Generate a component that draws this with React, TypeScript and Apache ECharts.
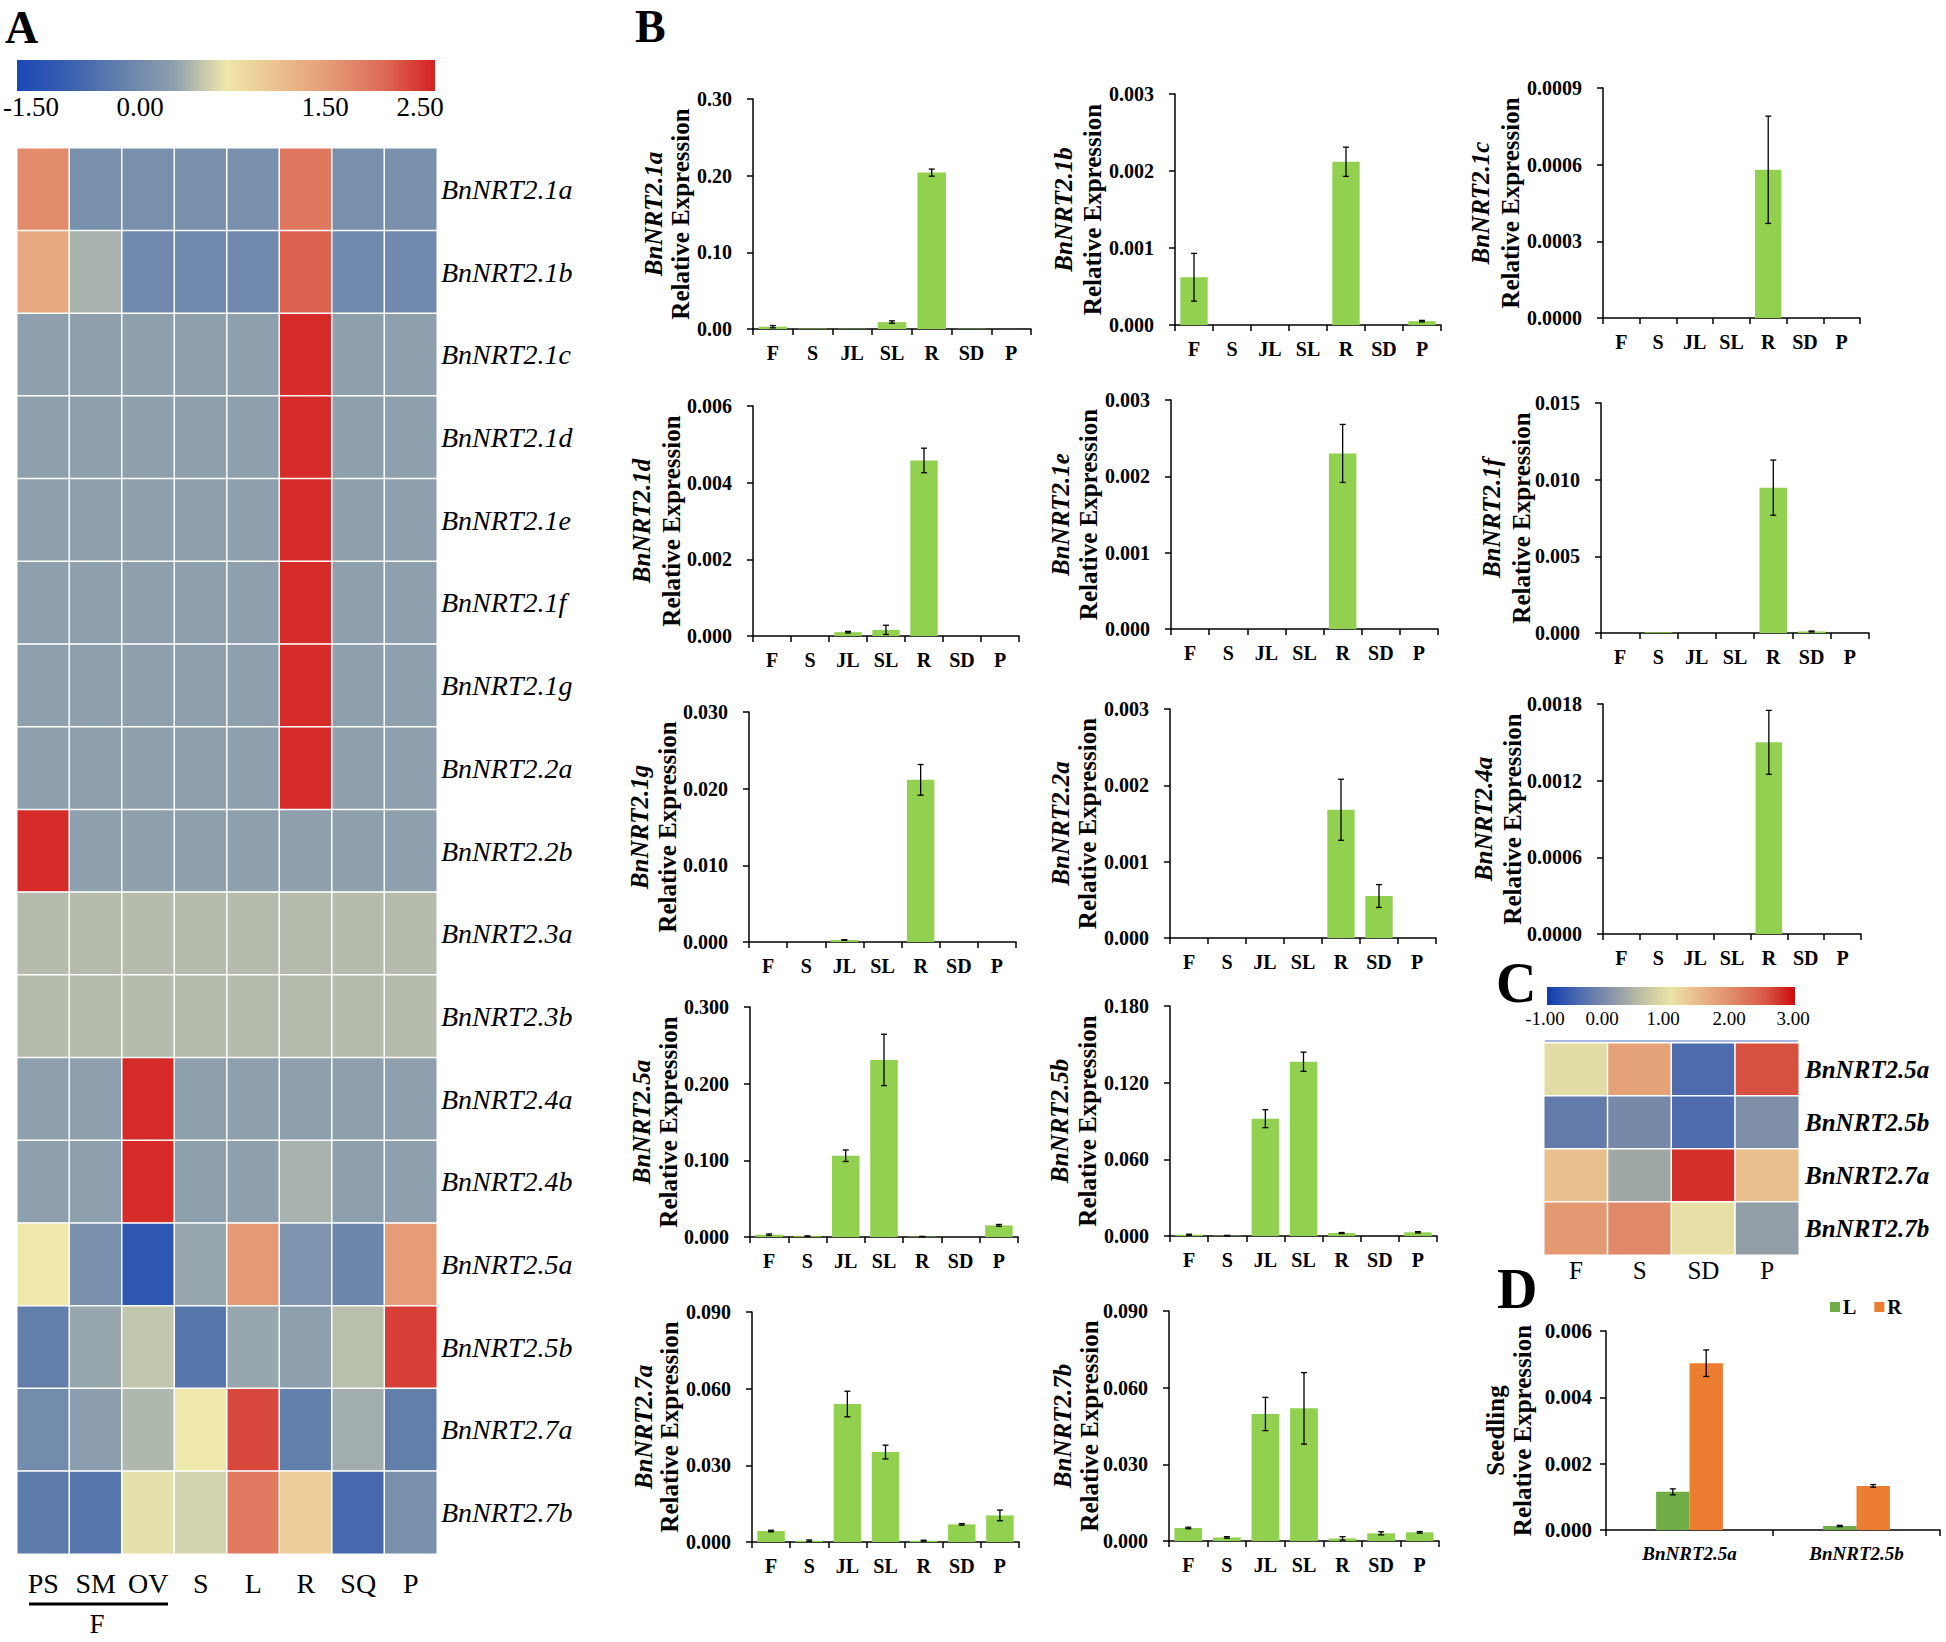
import React, { useEffect, useRef } from 'react';
import * as echarts from 'echarts';

const FONT = "'Liberation Serif', 'Times New Roman', serif";

// ---------- Panel A heatmap ----------
const tissuesA = ['PS', 'SM', 'OV', 'S', 'L', 'R', 'SQ', 'P'];
const genesA = ['BnNRT2.1a', 'BnNRT2.1b', 'BnNRT2.1c', 'BnNRT2.1d', 'BnNRT2.1e', 'BnNRT2.1f', 'BnNRT2.1g', 'BnNRT2.2a', 'BnNRT2.2b', 'BnNRT2.3a', 'BnNRT2.3b', 'BnNRT2.4a', 'BnNRT2.4b', 'BnNRT2.5a', 'BnNRT2.5b', 'BnNRT2.7a', 'BnNRT2.7b'];
const heatRowsA = [
  [1.65, -0.25, -0.25, -0.25, -0.25, 1.86, -0.25, -0.25],
  [1.29, 0.13, -0.35, -0.35, -0.35, 2.06, -0.35, -0.35],
  [0, 0, 0, 0, 0, 2.43, 0, 0],
  [0, 0, 0, 0, 0, 2.43, 0, 0],
  [0, 0, 0, 0, 0, 2.43, 0, 0],
  [0, 0, 0, 0, 0, 2.43, 0, 0],
  [0, 0, 0, 0, 0, 2.43, 0, 0],
  [0, 0, 0, 0, 0, 2.43, 0, 0],
  [2.43, 0, 0, 0, 0, 0, 0, 0],
  [0.2, 0.2, 0.2, 0.2, 0.2, 0.2, 0.2, 0.2],
  [0.2, 0.2, 0.2, 0.2, 0.2, 0.2, 0.2, 0.2],
  [0, 0, 2.43, 0, 0, 0, 0, 0],
  [0, 0, 2.43, 0, 0, 0.14, 0, 0],
  [0.5, -0.26, -1.19, 0.05, 1.5, -0.19, -0.39, 1.48],
  [-0.52, 0.05, 0.27, -0.64, 0.05, 0.0, 0.22, 2.31],
  [-0.32, -0.02, 0.17, 0.5, 2.24, -0.52, 0.1, -0.52],
  [-0.58, -0.64, 0.45, 0.35, 1.84, 0.85, -0.875, -0.25],
];
const colorsA = ['#1a48b5', '#3a60b0', '#6480ac', '#8e9fae', '#efe8ab', '#ebc08f', '#e59a76', '#dd6b56', '#d42222'];
const cbarLabelsA = ['-1.50', '0.00', '1.50', '2.50'];

// ---------- Panel C heatmap ----------
const tissuesC = ['F', 'S', 'SD', 'P'];
const genesC = ['BnNRT2.5a', 'BnNRT2.5b', 'BnNRT2.7a', 'BnNRT2.7b'];
const heatRowsC = [
  [0.9, 1.71, -0.47, 2.56],
  [-0.29, -0.11, -0.46, -0.04],
  [1.39, 0.25, 2.77, 1.39],
  [1.81, 2.02, 0.95, 0.12],
];
const colorsC = ['#0e3cae', '#4a6aae', '#8492a8', '#bcbea3', '#ebe4a6', '#e8b486', '#e08a68', '#d85a48', '#cc0c0c'];
const cbarLabelsC = ['-1.00', '0.00', '1.00', '2.00', '3.00'];

// ---------- Panel B bar charts ----------
const tissuesB = ['F', 'S', 'JL', 'SL', 'R', 'SD', 'P'];
const genesB = ['BnNRT2.1a', 'BnNRT2.1b', 'BnNRT2.1c', 'BnNRT2.1d', 'BnNRT2.1e', 'BnNRT2.1f', 'BnNRT2.1g', 'BnNRT2.2a', 'BnNRT2.4a', 'BnNRT2.5a', 'BnNRT2.5b', 'BnNRT2.7a', 'BnNRT2.7b'];
const expr21a = [0.003, 0.0006, 0.0004, 0.009, 0.204, 0.0004, 0];
const err21a = [0.0015, 0, 0, 0.0016, 0.0046, 0, 0];
const expr21b = [0.00062, 0, 0, 0, 0.00212, 0, 0.00005];
const err21b = [0.00031, 0, 0, 0, 0.00019, 0, 0.00001];
const expr21c = [0, 0, 0, 0, 0.00058, 0, 0];
const err21c = [0, 0, 0, 0, 0.00021, 0, 0];
const expr21d = [0, 0, 0.0001, 0.00016, 0.00458, 0, 0];
const err21d = [0, 0, 0.00002, 0.00012, 0.00032, 0, 0];
const expr21e = [0, 0, 0, 0, 0.0023, 0, 0];
const err21e = [0, 0, 0, 0, 0.00038, 0, 0];
const expr21f = [0, 0.00005, 0, 0, 0.00948, 0.0001, 0];
const err21f = [0, 0, 0, 0, 0.0018, 0.00003, 0];
const expr21g = [0, 0, 0.00026, 0, 0.02115, 0, 0];
const err21g = [0, 0, 0.00005, 0, 0.002, 0, 0];
const expr22a = [0, 0, 0, 0, 0.00168, 0.00055, 0];
const err22a = [0, 0, 0, 0, 0.0004, 0.00015, 0];
const expr24a = [0, 0, 0, 0, 0.0015, 0, 0];
const err24a = [0, 0, 0, 0, 0.00025, 0, 0];
const expr25a = [0.003, 0.001, 0.106, 0.231, 0.0005, 0, 0.0152];
const err25a = [0.001, 0.0005, 0.0075, 0.0335, 0.0003, 0, 0.0012];
const expr25b = [0.001, 0.0003, 0.0918, 0.1364, 0.0023, 0, 0.0029];
const err25b = [0.0004, 0.0002, 0.007, 0.0075, 0.0004, 0, 0.0005];
const expr27a = [0.0043, 0.0005, 0.054, 0.0352, 0.0005, 0.0069, 0.0104];
const err27a = [0.0003, 0.0003, 0.005, 0.0027, 0.0002, 0.0003, 0.0021];
const expr27b = [0.0051, 0.0014, 0.0497, 0.0519, 0.001, 0.003, 0.0034];
const err27b = [0.0003, 0.0003, 0.0065, 0.014, 0.0007, 0.0006, 0.0003];
const exprB = [expr21a, expr21b, expr21c, expr21d, expr21e, expr21f, expr21g, expr22a, expr24a, expr25a, expr25b, expr27a, expr27b];
const errB = [err21a, err21b, err21c, err21d, err21e, err21f, err21g, err22a, err24a, err25a, err25b, err27a, err27b];
const yMaxB = [0.3, 0.003, 0.0009, 0.006, 0.003, 0.015, 0.03, 0.003, 0.0018, 0.3, 0.18, 0.09, 0.09];
const yIntervalB = [0.1, 0.001, 0.0003, 0.002, 0.001, 0.005, 0.01, 0.001, 0.0006, 0.1, 0.06, 0.03, 0.03];
const yDecimalsB = [2, 3, 4, 3, 3, 3, 3, 3, 4, 3, 3, 3, 3];

// ---------- Panel D ----------
const seedlingGenes = ['BnNRT2.5a', 'BnNRT2.5b'];
const leafExpr = [0.00115, 0.00012];
const leafErr = [0.00009, 0.00002];
const rootExpr = [0.00503, 0.00133];
const rootErr = [0.0004, 0.00004];
const seedlingTicks = [0, 0.002, 0.004, 0.006];

// ---------- Layout (pixel positions) ----------
// [axisX, axisEndX, top, bottom, geneTitleOffset, relTitleOffset]
const layoutB = [
  [753, 1031, 99, 329, 100, 73],
  [1175, 1441, 94, 325, 112, 83],
  [1603, 1860, 88, 318, 123, 93],
  [753, 1019, 406, 636, 112, 82],
  [1171, 1438, 400, 629, 111, 83],
  [1601, 1869, 403, 633, 110, 80],
  [749, 1016, 712, 942, 110, 82],
  [1170, 1436, 709, 938, 110, 83],
  [1603, 1861, 704, 934, 120, 91],
  [750, 1018, 1007, 1237, 109, 82],
  [1170, 1437, 1006, 1236, 111, 83],
  [752, 1019, 1312, 1542, 109, 83],
  [1169, 1439, 1311, 1541, 107, 80],
];
const cbarLabelXA = [31, 140, 325, 420];
const cbarLabelXC = [1545, 1602, 1663, 1729, 1793];

const axisColor = '#000';

function errorRender(offsetFrac: number) {
  return (params: any, api: any) => {
    const x = api.value(0);
    const lo = api.value(1);
    const hi = api.value(2);
    const pLo = api.coord([x, lo]);
    const pHi = api.coord([x, hi]);
    const bw = api.size([1, 0])[0];
    const cx = pLo[0] + offsetFrac * bw;
    const cap = 3;
    const st = { stroke: '#000', lineWidth: 1.3 };
    return {
      type: 'group',
      children: [
        { type: 'line', shape: { x1: cx, y1: pHi[1], x2: cx, y2: pLo[1] }, style: st },
        { type: 'line', shape: { x1: cx - cap, y1: pHi[1], x2: cx + cap, y2: pHi[1] }, style: st },
        { type: 'line', shape: { x1: cx - cap, y1: pLo[1], x2: cx + cap, y2: pLo[1] }, style: st },
      ],
    };
  };
}

function gradient(colors: string[]) {
  return {
    type: 'linear', x: 0, y: 0, x2: 1, y2: 0,
    colorStops: colors.map((c, i) => ({ offset: i / (colors.length - 1), color: c })),
  };
}

function txt(text: string, x: number, y: number, font: string, align = 'center', rotation = 0) {
  return {
    type: 'text', x, y, rotation, silent: true,
    style: { text, font, fill: '#000', align, verticalAlign: 'middle', textAlign: align, textVerticalAlign: 'middle' },
  };
}

function buildOption() {
  const grid: any[] = [];
  const xAxis: any[] = [];
  const yAxis: any[] = [];
  const series: any[] = [];
  const graphic: any[] = [];

  // Panel A heatmap
  grid.push({ left: 17, top: 148, width: 420, height: 1406 });
  xAxis.push({
    type: 'category', gridIndex: 0, data: tissuesA, position: 'bottom',
    axisLine: { show: false }, axisTick: { show: false }, splitLine: { show: false },
    axisLabel: { interval: 0, fontFamily: FONT, fontSize: 28, color: '#000', margin: 15 },
  });
  yAxis.push({
    type: 'category', gridIndex: 0, data: genesA, inverse: true, position: 'right',
    axisLine: { show: false }, axisTick: { show: false }, splitLine: { show: false },
    axisLabel: { interval: 0, fontFamily: FONT, fontSize: 28, fontStyle: 'italic', color: '#000', margin: 4 },
  });
  const dataA: any[] = [];
  heatRowsA.forEach((row, r) => row.forEach((v, c) => dataA.push([c, r, v])));
  series.push({
    type: 'heatmap', xAxisIndex: 0, yAxisIndex: 0, data: dataA, silent: true,
    itemStyle: { borderColor: '#fff', borderWidth: 1.5 }, emphasis: { disabled: true },
  });

  // Panel C heatmap
  grid.push({ left: 1544, top: 1043, width: 255, height: 212 });
  xAxis.push({
    type: 'category', gridIndex: 1, data: tissuesC, position: 'bottom',
    axisLine: { show: false }, axisTick: { show: false }, splitLine: { show: false },
    axisLabel: { interval: 0, fontFamily: FONT, fontSize: 25, color: '#000', margin: 3 },
  });
  yAxis.push({
    type: 'category', gridIndex: 1, data: genesC, inverse: true, position: 'right',
    axisLine: { show: false }, axisTick: { show: false }, splitLine: { show: false },
    axisLabel: { interval: 0, fontFamily: FONT, fontSize: 25, fontStyle: 'italic', fontWeight: 'bold', color: '#000', margin: 6 },
  });
  const dataC: any[] = [];
  heatRowsC.forEach((row, r) => row.forEach((v, c) => dataC.push([c, r, v])));
  series.push({
    type: 'heatmap', xAxisIndex: 1, yAxisIndex: 1, data: dataC, silent: true,
    itemStyle: { borderColor: '#fff', borderWidth: 1.5 }, emphasis: { disabled: true },
  });

  const lineStyle = { color: axisColor, width: 1.5 };

  // Panel B bar charts
  genesB.forEach((gene, i) => {
    const [ax, ex, top, bottom, o1, o2] = layoutB[i];
    const gi = grid.length;
    grid.push({ left: ax, top, width: ex - ax, height: bottom - top });
    xAxis.push({
      type: 'category', gridIndex: gi, data: tissuesB,
      axisLine: { show: true, lineStyle },
      axisTick: { show: true, interval: 0, length: 6, lineStyle },
      axisLabel: { interval: 0, fontFamily: FONT, fontWeight: 'bold', fontSize: 20, color: '#000', margin: 14 },
      splitLine: { show: false },
    });
    const dec = yDecimalsB[i];
    yAxis.push({
      type: 'value', gridIndex: gi, min: 0, max: yMaxB[i], interval: yIntervalB[i],
      axisLine: { show: true, lineStyle },
      axisTick: { show: true, length: 6, lineStyle },
      splitLine: { show: false },
      axisLabel: { formatter: (v: number) => v.toFixed(dec), fontFamily: FONT, fontWeight: 'bold', fontSize: 20, color: '#000', margin: 21 },
    });
    series.push({
      type: 'bar', name: gene, xAxisIndex: gi, yAxisIndex: gi, data: exprB[i], silent: true,
      barCategoryGap: '28%', itemStyle: { color: '#92d050' },
    });
    const errData = exprB[i]
      .map((v, k) => [k, v - errB[i][k], v + errB[i][k], errB[i][k]])
      .filter((d) => d[3] > 0)
      .map((d) => [d[0], d[1], d[2]]);
    series.push({
      type: 'custom', name: gene + ' SD', xAxisIndex: gi, yAxisIndex: gi, data: errData, silent: true,
      encode: { x: 0, y: [1, 2] }, renderItem: errorRender(0), z: 10,
    });
    const midY = (top + bottom) / 2;
    graphic.push(txt(gene, ax - o1, midY, `italic bold 25px ${FONT}`, 'center', Math.PI / 2));
    graphic.push(txt('Relative Expression', ax - o2, midY, `bold 25px ${FONT}`, 'center', Math.PI / 2));
  });

  // Panel D
  const dAx = 1606, dEnd = 1940, dTop = 1331, dBottom = 1530;
  const dg = grid.length;
  grid.push({ left: dAx, top: dTop, width: dEnd - dAx, height: dBottom - dTop });
  xAxis.push({
    type: 'category', gridIndex: dg, data: seedlingGenes,
    axisLine: { show: true, lineStyle },
    axisTick: { show: true, interval: 0, length: 6, lineStyle },
    axisLabel: { interval: 0, fontFamily: FONT, fontWeight: 'bold', fontStyle: 'italic', fontSize: 19, color: '#000', margin: 14 },
    splitLine: { show: false },
  });
  yAxis.push({
    type: 'value', gridIndex: dg, min: seedlingTicks[0], max: seedlingTicks[seedlingTicks.length - 1], interval: seedlingTicks[1] - seedlingTicks[0],
    axisLine: { show: true, lineStyle },
    axisTick: { show: true, length: 6, lineStyle },
    splitLine: { show: false },
    axisLabel: { formatter: (v: number) => v.toFixed(3), fontFamily: FONT, fontWeight: 'bold', fontSize: 21, color: '#000', margin: 14 },
  });
  series.push({
    type: 'bar', name: 'L', xAxisIndex: dg, yAxisIndex: dg, data: leafExpr, silent: true,
    barCategoryGap: '60%', barGap: '0%', itemStyle: { color: '#70ad47' },
  });
  series.push({
    type: 'bar', name: 'R', xAxisIndex: dg, yAxisIndex: dg, data: rootExpr, silent: true,
    barCategoryGap: '60%', barGap: '0%', itemStyle: { color: '#ed7d31' },
  });
  series.push({
    type: 'custom', name: 'L SD', xAxisIndex: dg, yAxisIndex: dg, silent: true,
    data: leafExpr.map((v, k) => [k, v - leafErr[k], v + leafErr[k]]),
    encode: { x: 0, y: [1, 2] }, renderItem: errorRender(-0.1), z: 10,
  });
  series.push({
    type: 'custom', name: 'R SD', xAxisIndex: dg, yAxisIndex: dg, silent: true,
    data: rootExpr.map((v, k) => [k, v - rootErr[k], v + rootErr[k]]),
    encode: { x: 0, y: [1, 2] }, renderItem: errorRender(0.1), z: 10,
  });
  const dMid = (dTop + dBottom) / 2;
  graphic.push(txt('Seedling', dAx - 111, dMid, `bold 25px ${FONT}`, 'center', Math.PI / 2));
  graphic.push(txt('Relative Expression', dAx - 84, dMid, `bold 25px ${FONT}`, 'center', Math.PI / 2));

  // Colorbar A
  graphic.push({ type: 'rect', silent: true, shape: { x: 17, y: 60, width: 418, height: 31 }, style: { fill: gradient(colorsA) } });
  cbarLabelsA.forEach((l, i) => graphic.push(txt(l, cbarLabelXA[i], 107, `27px ${FONT}`)));
  // Colorbar C
  graphic.push({ type: 'rect', silent: true, shape: { x: 1547, y: 987, width: 248, height: 18 }, style: { fill: gradient(colorsC) } });
  cbarLabelsC.forEach((l, i) => graphic.push(txt(l, cbarLabelXC[i], 1018, `19px ${FONT}`)));
  graphic.push({ type: 'rect', silent: true, shape: { x: 1545, y: 1040, width: 253, height: 2 }, style: { fill: '#a6b8e0' } });

  // F underline group in A
  graphic.push({ type: 'line', silent: true, shape: { x1: 29, y1: 1604, x2: 168, y2: 1604 }, style: { stroke: '#000', lineWidth: 3 } });
  graphic.push(txt('F', 97, 1624, `27px ${FONT}`));

  // Panel letters
  graphic.push(txt('A', 5, 27, `bold 46px ${FONT}`, 'left'));
  graphic.push(txt('B', 635, 26, `bold 46px ${FONT}`, 'left'));
  graphic.push(txt('C', 1496, 983, `bold 56px ${FONT}`, 'left'));
  graphic.push(txt('D', 1497, 1289, `bold 56px ${FONT}`, 'left'));

  return {
    animation: false,
    backgroundColor: '#fff',
    textStyle: { fontFamily: FONT },
    grid, xAxis, yAxis, series, graphic,
    legend: {
      data: ['L', 'R'], left: 1825, top: 1292, itemWidth: 10, itemHeight: 10, itemGap: 18, icon: 'rect',
      selectedMode: false, textStyle: { fontFamily: FONT, fontWeight: 'bold', fontSize: 20, color: '#000', padding: [0, 0, 0, -2] },
    },
    visualMap: [
      { type: 'continuous', show: false, seriesIndex: 0, dimension: 2, min: -1.5, max: 2.5, inRange: { color: colorsA } },
      { type: 'continuous', show: false, seriesIndex: 1, dimension: 2, min: -1, max: 3, inRange: { color: colorsC } },
    ],
  };
}

export default function App() {
  const ref = useRef<HTMLDivElement>(null);
  useEffect(() => {
    document.body.style.margin = '0';
    const chart = echarts.init(ref.current as HTMLDivElement, null, { renderer: 'svg' });
    chart.setOption(buildOption() as any);
    return () => chart.dispose();
  }, []);
  return <div ref={ref} style={{ position: 'absolute', left: 0, top: 0, width: 1946, height: 1642, background: '#fff' }} />;
}
